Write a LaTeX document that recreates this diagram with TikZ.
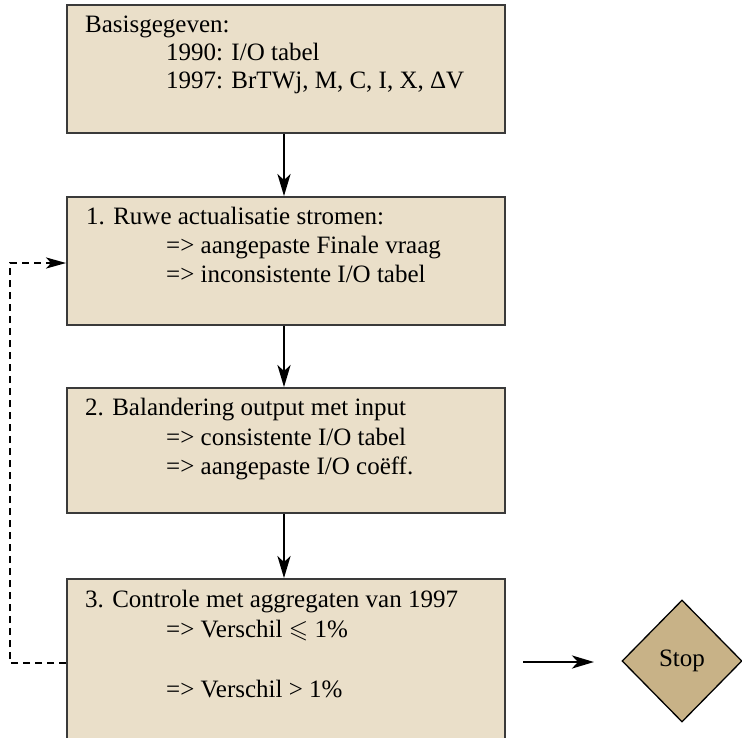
\documentclass[tikz,border=0pt]{standalone}
\usepackage{amssymb}
\usepackage{fontspec}
\setmainfont{Liberation Serif}
\usetikzlibrary{arrows.meta,shapes.geometric}
\definecolor{boxfill}{HTML}{EADFC9}
\definecolor{stopfill}{HTML}{C8B287}
\definecolor{boxline}{HTML}{3A3A3A}
\begin{document}
\begin{tikzpicture}[x=1pt,y=-1pt,
  stepbox/.style={draw=boxline,line width=1.8pt,fill=boxfill,minimum width=438pt,inner sep=0pt},
  txt/.style={anchor=base west,inner sep=0pt,font=\fontsize{25}{29}\selectfont},
  arr/.style={line width=2.8pt,-{Stealth[length=22pt,width=13pt,inset=6pt]}},
  darr/.style={line width=2.4pt,dash pattern=on 7pt off 5pt,-{Stealth[length=20pt,width=11pt,inset=5pt]}}]
\useasboundingbox (0,0) rectangle (742,737);
\node[stepbox,minimum height=128pt] (b0) at (286,69) {};
\node[stepbox,minimum height=128pt] (b1) at (286,261) {};
\node[stepbox,minimum height=125pt] (b2) at (286,450.5) {};
\begin{scope}
\clip (0,0) rectangle (742,737);
\node[stepbox,minimum height=180pt] (b3) at (286,669) {};
\end{scope}
\node[diamond,draw=black,line width=1.3pt,fill=stopfill,minimum width=120pt,minimum height=122pt,inner sep=0pt,font=\fontsize{25}{29}\selectfont] (stop) at (682,661) {Stop};
% texts
\node[txt] (t01) at (85,32) {Basisgegeven:};
\node[txt] (t02) at (166,60) {1990: I/O tabel};
\node[txt] (t03) at (166,88) {1997: BrTWj, M, C, I, X, ΔV};
\node[txt] (t11) at (86,224) {1. Ruwe actualisatie stromen:};
\node[txt] (t12) at (166,253) {=> aangepaste Finale vraag};
\node[txt] (t13) at (166,282) {=> inconsistente I/O tabel};
\node[txt] (t21) at (85,415) {2. Balandering output met input};
\node[txt] (t22) at (166,445) {=> consistente I/O tabel};
\node[txt] (t23) at (166,474) {=> aangepaste I/O coëff.};
\node[txt] (t31) at (85,607) {3. Controle met aggregaten van 1997};
\node[txt] (t32) at (166,637) {=> Verschil $\leqslant$ 1\%};
\node[txt] (t33) at (166,697) {=> Verschil > 1\%};
% connectors
\draw[arr] ([xshift=-2pt]b0.south) -- ([xshift=-2pt]b1.north);
\draw[arr] ([xshift=-2pt]b1.south) -- ([xshift=-2pt]b2.north);
\draw[arr] ([xshift=-2pt]b2.south) -- ([xshift=-2pt]b3.north);
\coordinate (s0) at (523,662);
\coordinate (s1) at (594,662);
\draw[arr] (s0) -- (s1);
\coordinate (d0) at (66,663);
\draw[darr] (d0) -- (10,663) -- (10,263) -- (b1.west |- 0,263);
\end{tikzpicture}
\end{document}
